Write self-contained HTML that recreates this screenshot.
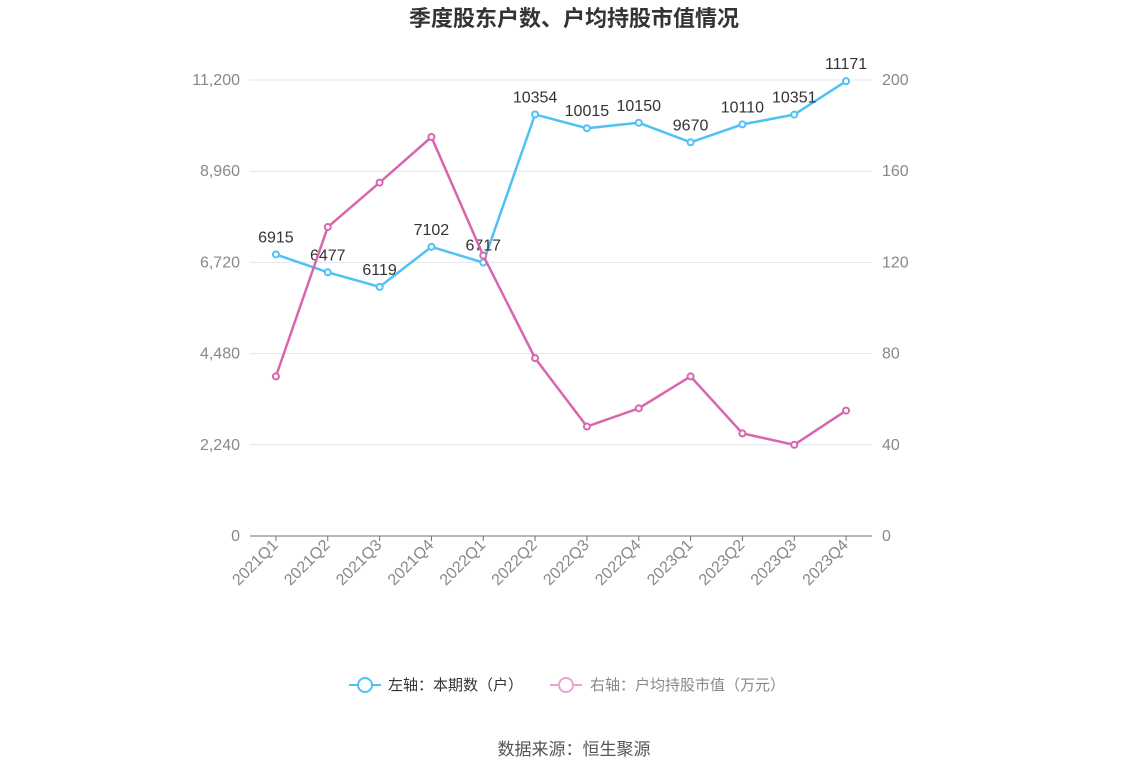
<!DOCTYPE html>
<html><head><meta charset="utf-8"><style>
body{margin:0;background:#fff;font-family:"Liberation Sans","Noto Sans CJK SC",sans-serif;}
</style></head><body>
<svg id="chart" width="1148" height="776" xmlns="http://www.w3.org/2000/svg" font-family="Liberation Sans, Noto Sans CJK SC, sans-serif">
<text x="574" y="26" text-anchor="middle" font-size="22" font-weight="bold" fill="#333">季度股东户数、户均持股市值情况</text>
<g id="grid"></g><g id="axes"></g><g id="series"></g>
<g>
<g>
<line x1="349" y1="685" x2="381" y2="685" stroke="#4fc1f5" stroke-width="2"/>
<circle cx="365" cy="685" r="7" fill="#fff" stroke="#4fc1f5" stroke-width="2"/>
<text x="388" y="690" font-size="15" fill="#333">左轴：本期数（户）</text></g>
<g>
<line x1="550" y1="685" x2="582" y2="685" stroke="#e8a5cf" stroke-width="2"/>
<circle cx="566" cy="685" r="7" fill="#fff" stroke="#e8a5cf" stroke-width="2"/>
<text x="590" y="690" font-size="15" fill="#888">右轴：户均持股市值（万元）</text></g>
</g>
<text x="574" y="755" text-anchor="middle" font-size="17" fill="#555">数据来源：恒生聚源</text>
</svg>
<script>
const categories=["2021Q1","2021Q2","2021Q3","2021Q4","2022Q1","2022Q2","2022Q3","2022Q4","2023Q1","2023Q2","2023Q3","2023Q4"];
const holders=[6915,6477,6119,7102,6717,10354,10015,10150,9670,10110,10351,11171];
const avgValue=[70,135.5,155,175,123,78,48,56,70,45,40,55];
const leftTicks=[0,2240,4480,6720,8960,11200];
const rightTicks=[0,40,80,120,160,200];
const NS="http://www.w3.org/2000/svg";
const x0=250,x1=872,yb=536,yt=80;
const step=(x1-x0)/categories.length;
const xs=i=>x0+step*(i+0.5);
const yl=v=>yb-(v/11200)*(yb-yt);
const yr=v=>yb-(v/200)*(yb-yt);
function mk(tag,attrs,parent){const e=document.createElementNS(NS,tag);for(const k in attrs)e.setAttribute(k,attrs[k]);parent.appendChild(e);return e;}
const grid=document.getElementById('grid'),axes=document.getElementById('axes'),ser=document.getElementById('series');
leftTicks.forEach((t,i)=>{
 const y=yl(t);
 if(t>0){const g=mk('line',{x1:x0,x2:x1,y1:y,y2:y,stroke:'#e0e6f1'},grid);
 
 }
 const a=mk('text',{x:240,y:y+5,'text-anchor':'end','font-size':16,fill:'#888'},axes);a.textContent=t.toLocaleString('en-US');
 
 
 const b=mk('text',{x:882,y:yr(rightTicks[i])+5,'font-size':16,fill:'#888'},axes);b.textContent=rightTicks[i];
 
 
});
const ax=mk('line',{x1:x0,x2:x1,y1:yb,y2:yb,stroke:'#6e7079'},axes);


categories.forEach((c,i)=>{
 const x=xs(i);
 mk('line',{x1:x,x2:x,y1:yb,y2:yb+5,stroke:'#6e7079'},axes);
 const t=mk('text',{x:x+3,y:yb+10,'text-anchor':'end','font-size':16,fill:'#888',transform:`rotate(-45 ${x+3} ${yb+10})`},axes);
 t.textContent=c;
 
 
});
function line(vals,fy,color,name,labels){
 const p=mk('polyline',{points:vals.map((v,i)=>xs(i)+','+fy(v)).join(' '),fill:'none',stroke:color,'stroke-width':2.5},ser);
 
 
 vals.forEach((v,i)=>{
  const c=mk('circle',{cx:xs(i),cy:fy(v),r:3,fill:'#fff',stroke:color,'stroke-width':2},ser);
  
  
  if(labels){const t=mk('text',{x:xs(i),y:fy(v)-12,'text-anchor':'middle','font-size':16,fill:'#333'},ser);t.textContent=v;
  
  }
 });
}
line(holders,yl,'#4fc1f5','holders',true);
line(avgValue,yr,'#d966ad','avg-value',false);
</script>
</body></html>
